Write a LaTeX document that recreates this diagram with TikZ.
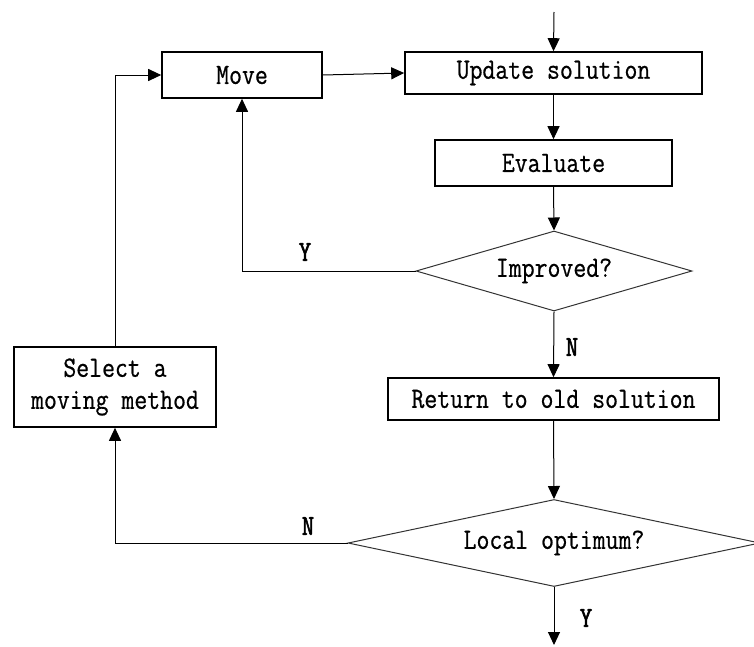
\documentclass[tikz,border=0pt]{standalone}
\usepackage{fontspec}
\usetikzlibrary{shapes.geometric,arrows.meta}
% narrow typewriter face for the flowchart texts
\newfontfamily\flowfont{Latin Modern Mono}[FakeStretch=0.85,FakeBold=0.6]
\newfontfamily\branchfont{Latin Modern Mono}[FakeStretch=0.82,FakeBold=2]
\begin{document}
\begin{tikzpicture}[x=1pt,y=-1pt,
  txt/.style={font=\fontsize{29.5}{32}\flowfont},
  procbox/.style={txt,draw,line width=1.6pt,rectangle,inner sep=0pt,align=center},
  decision/.style={txt,draw,line width=1pt,diamond,inner sep=0pt,draw=black!80},
  flow/.style={line width=1pt,-{Triangle[length=13pt,width=12pt]}},
  branch/.style={font=\fontsize{29}{32}\branchfont}]
  \useasboundingbox (0,0) rectangle (754,646);

  % process boxes
  \node[procbox,minimum width=160pt,minimum height=46pt] (move) at (242,75) {Move};
  \node[procbox,minimum width=297pt,minimum height=42pt] (update) at (553.5,73) {Update solution};
  \node[procbox,minimum width=237pt,minimum height=46pt] (eval) at (553.5,163) {Evaluate};
  \node[procbox,minimum width=331pt,minimum height=42pt] (ret) at (553.5,399) {Return to old solution};
  \node[procbox,minimum width=202pt,minimum height=80pt] (select) at (115,387) {Select a\\moving method};

  % decisions
  \node[decision,aspect=3.45,minimum width=276pt,minimum height=80pt] (improved) at (554,271) {Improved?};
  \node[decision,aspect=4.7,minimum width=412pt,minimum height=87pt] (local) at (554,543) {Local optimum?};

  % entry and exit points
  \coordinate (start) at (554,12);
  \coordinate (finish) at (554,645);

  % connectors
  \draw[flow] (start) -- (update.north);
  \draw[flow] (move.east) -- (update.west);
  \draw[flow] (update.south) -- (eval.north);
  \draw[flow] (eval.south) -- (improved.north);
  \draw[flow] (improved.south) -- (ret.north);
  \draw[flow] (ret.south) -- (local.north);
  \draw[flow] (local.south) -- (finish);
  \draw[flow] (improved.west) -| (move.south);
  \draw[flow] (local.west) -| (select.south);
  \draw[flow] (select.north) |- (move.west);

  % branch labels
  \node[branch] (yimp) at (305,252) {Y};
  \node[branch] (nimp) at (572,347) {N};
  \node[branch] (nloc) at (308,526) {N};
  \node[branch] (yloc) at (586,618) {Y};
\end{tikzpicture}
\end{document}
